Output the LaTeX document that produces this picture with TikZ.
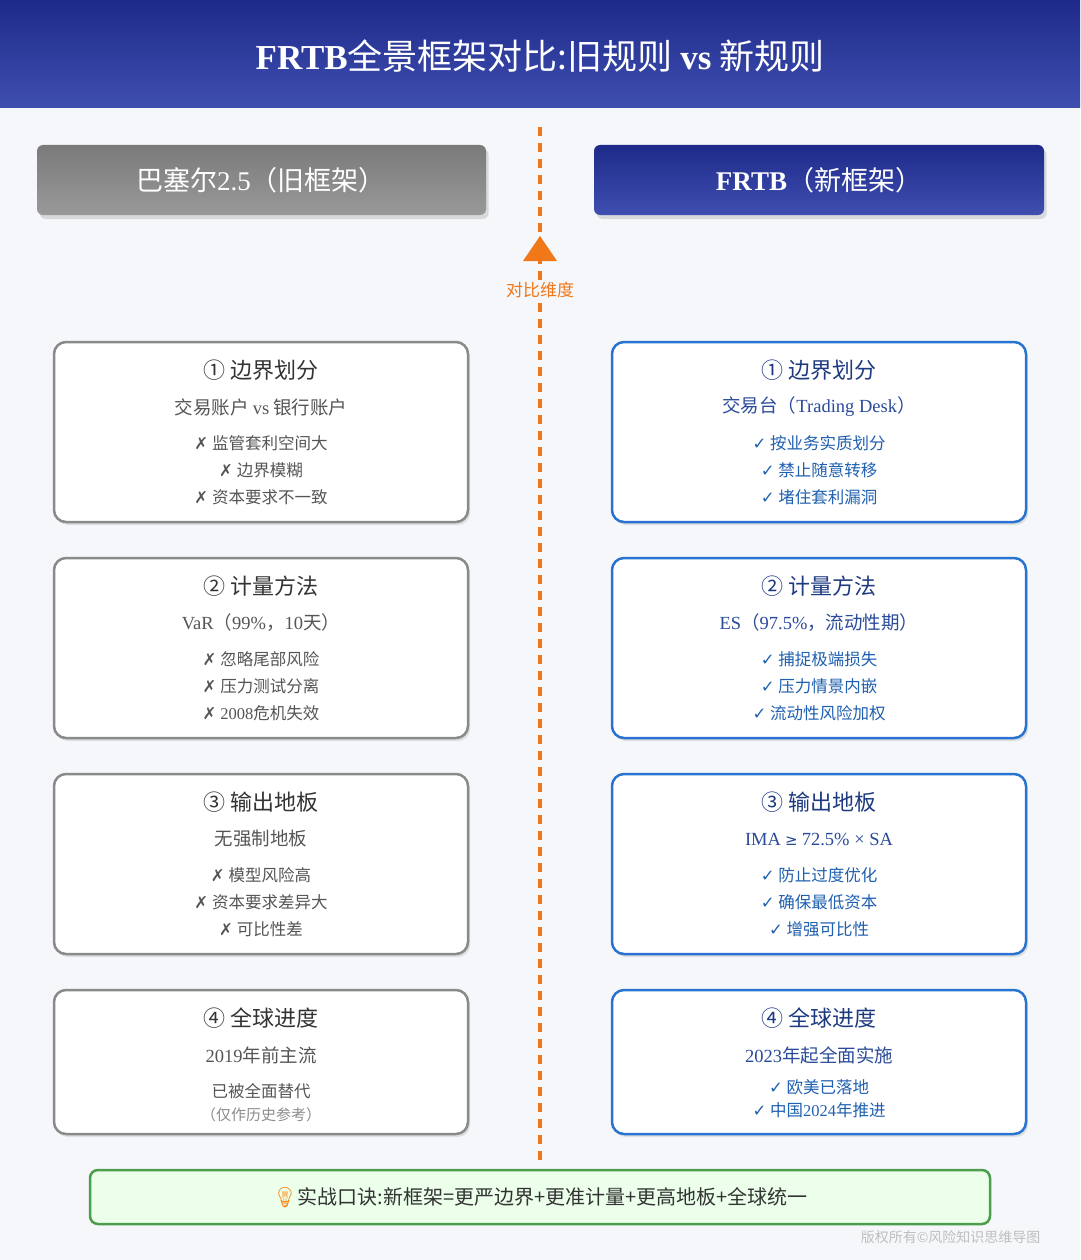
\documentclass[tikz,border=0pt]{standalone}
\usepackage{fontspec}
\setmainfont{Noto Sans CJK SC}
\newfontfamily\serifL{Liberation Serif}
\newfontfamily\djv{DejaVu Sans}
\newfontfamily\emo{Noto Emoji}
\usetikzlibrary{shadows}
\newcommand{\Lt}[1]{{\serifL #1}}
\newcommand{\ck}{{\djv ✓}}
\newcommand{\xk}{{\djv ✗}}
\definecolor{bg}{HTML}{F5F7FA}
\definecolor{navyA}{HTML}{1E2A8A}
\definecolor{navyB}{HTML}{3F4FB0}
\definecolor{org}{HTML}{F07818}
\definecolor{lgray}{HTML}{8A8A8A}
\definecolor{rblue}{HTML}{2A73D0}
\definecolor{tdark}{HTML}{333333}
\definecolor{tmid}{HTML}{555555}
\definecolor{bdark}{HTML}{1E3A80}
\definecolor{bmid}{HTML}{2A4A9A}
\definecolor{bitem}{HTML}{1F60B0}
\tikzset{
 oldcard/.style={draw=lgray,line width=2.5pt,fill=white,rounded corners=12pt,drop shadow={opacity=0.2,shadow xshift=2pt,shadow yshift=-3pt}},
 newcard/.style={draw=rblue,line width=2.5pt,fill=white,rounded corners=12pt,drop shadow={opacity=0.2,shadow xshift=2pt,shadow yshift=-3pt}},
 ttl/.style={font=\fontsize{22}{24}\selectfont},
 sub/.style={font=\fontsize{18.5}{20}\selectfont},
 itm/.style={font=\fontsize{16.5}{18}\selectfont},
}
\begin{document}
\begin{tikzpicture}[x=1pt,y=-1pt]
\useasboundingbox (0,0) rectangle (1080,1260);
\fill[bg] (0,0) rectangle (1080,1260);
\shade[top color=navyA,bottom color=navyB] (0,0) rectangle (1080,108);
\node[white,font=\fontsize{35}{37}\selectfont] (title) at (540,56) {\Lt{\bfseries FRTB}全景框架对比:旧规则 \Lt{\bfseries vs} 新规则};
% dashed center line
\coordinate (ltop) at (540,127);
\coordinate (lbot) at (540,1162);
\draw[org,line width=3.5pt,dash pattern=on 9pt off 7pt] (ltop) -- (lbot);
\fill[org] (540,236) -- (557,261) -- (523,261) -- cycle;
\node[org,font=\fontsize{17}{18}\selectfont,fill=bg,inner sep=1pt] (dim) at (540,290) {对比维度};
% headers
\shade[rounded corners=6pt,top color=black!52,bottom color=black!40,drop shadow={opacity=0.25,shadow yshift=-4pt}] (37,145) rectangle (486,215);
\node[white,font=\fontsize{27}{28}\selectfont] (hl) at (261,180) {巴塞尔\Lt{2.5}（旧框架）};
\shade[rounded corners=6pt,top color=navyA,bottom color=navyB,drop shadow={opacity=0.25,shadow yshift=-4pt}] (594,145) rectangle (1044,215);
\node[white,font=\fontsize{27}{28}\selectfont] (hr) at (819,180) {\Lt{\bfseries FRTB}（新框架）};
% cards
\foreach \y/\h in {342/180,558/180,774/180,990/144}{
 \draw[oldcard] (54,\y) rectangle (468,\y+\h);
 \draw[newcard] (612,\y) rectangle (1026,\y+\h);
}
% row1
\node[ttl,tdark] (l1t) at (261,370) {① 边界划分};
\node[sub,tmid] (l1s) at (261,407) {交易账户 \Lt{vs} 银行账户};
\node[itm,tmid] at (261,443) {\xk\ 监管套利空间大};
\node[itm,tmid] at (261,470) {\xk\ 边界模糊};
\node[itm,tmid] at (261,497) {\xk\ 资本要求不一致};
\node[ttl,bdark] (r1t) at (819,370) {① 边界划分};
\node[sub,bmid] (r1s) at (819,407) {交易台（\Lt{Trading Desk}）};
\node[itm,bitem] at (819,443) {\ck\ 按业务实质划分};
\node[itm,bitem] at (819,470) {\ck\ 禁止随意转移};
\node[itm,bitem] at (819,497) {\ck\ 堵住套利漏洞};
% row2
\node[ttl,tdark] at (261,586) {② 计量方法};
\node[sub,tmid] at (261,623) {\Lt{VaR}（\Lt{99\%}，\Lt{10}天）};
\node[itm,tmid] at (261,659) {\xk\ 忽略尾部风险};
\node[itm,tmid] at (261,686) {\xk\ 压力测试分离};
\node[itm,tmid] at (261,713) {\xk\ \Lt{2008}危机失效};
\node[ttl,bdark] at (819,586) {② 计量方法};
\node[sub,bmid] at (819,623) {\Lt{ES}（\Lt{97.5\%}，流动性期）};
\node[itm,bitem] at (819,659) {\ck\ 捕捉极端损失};
\node[itm,bitem] at (819,686) {\ck\ 压力情景内嵌};
\node[itm,bitem] at (819,713) {\ck\ 流动性风险加权};
% row3
\node[ttl,tdark] at (261,802) {③ 输出地板};
\node[sub,tmid] at (261,839) {无强制地板};
\node[itm,tmid] at (261,875) {\xk\ 模型风险高};
\node[itm,tmid] at (261,902) {\xk\ 资本要求差异大};
\node[itm,tmid] at (261,929) {\xk\ 可比性差};
\node[ttl,bdark] at (819,802) {③ 输出地板};
\node[sub,bmid] at (819,839) {\Lt{IMA} {\djv\fontsize{15}{16}\selectfont ≥} \Lt{72.5\% × SA}};
\node[itm,bitem] at (819,875) {\ck\ 防止过度优化};
\node[itm,bitem] at (819,902) {\ck\ 确保最低资本};
\node[itm,bitem] at (819,929) {\ck\ 增强可比性};
% row4
\node[ttl,tdark] at (261,1018) {④ 全球进度};
\node[sub,tmid] at (261,1055) {\Lt{2019}年前主流};
\node[itm,tmid] at (261,1091) {已被全面替代};
\node[itm,black!45,font=\fontsize{15}{16}\selectfont] at (261,1115) {（仅作历史参考）};
\node[ttl,bdark] at (819,1018) {④ 全球进度};
\node[sub,bmid] at (819,1055) {\Lt{2023}年起全面实施};
\node[itm,bitem] at (819,1087) {\ck\ 欧美已落地};
\node[itm,bitem] at (819,1110) {\ck\ 中国\Lt{2024}年推进};
% bottom
\draw[draw=green!45!black!70,line width=2.5pt,fill=green!8,rounded corners=8pt] (90,1170) rectangle (990,1224);
\node[font=\fontsize{20}{22}\selectfont,tdark] (tip) at (540,1198) {{\emo\color{orange}💡}实战口诀:新框架=更严边界+更准计量+更高地板+全球统一};
\node[anchor=east,black!25,font=\fontsize{14}{15}\selectfont] (wm) at (1044,1237) {版权所有©风险知识思维导图};
\end{tikzpicture}
\end{document}
